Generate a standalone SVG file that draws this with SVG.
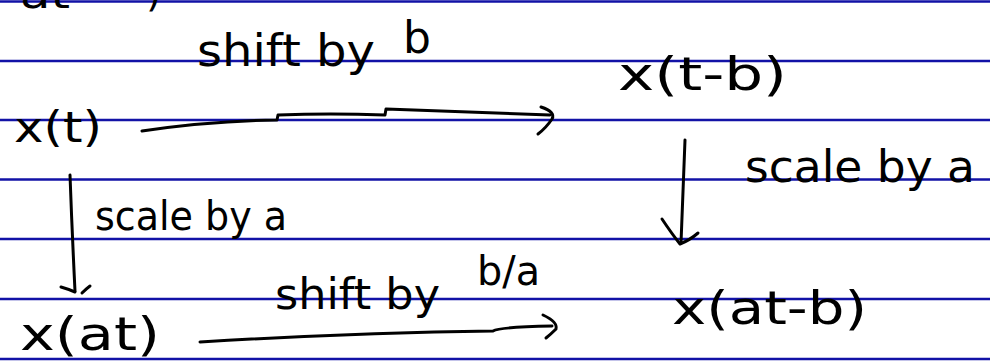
<svg xmlns="http://www.w3.org/2000/svg" width="990" height="362" viewBox="0 0 990 362">
<style>
  .rule { stroke: #1212a6; stroke-width: 2.4; }
  .hw { font-family: "DejaVu Sans", "Liberation Sans", sans-serif; fill: #000; font-weight: normal; }
  .ink { fill: none; stroke: #000; stroke-width: 3; stroke-linecap: round; stroke-linejoin: round; }
</style>
<rect width="990" height="362" fill="#ffffff"/>
<g id="ruled-lines">
  <line class="rule" x1="0" y1="1.5" x2="990" y2="1.5"/>
  <line class="rule" x1="0" y1="61" x2="990" y2="61"/>
  <line class="rule" x1="0" y1="120" x2="990" y2="120"/>
  <line class="rule" x1="0" y1="179.5" x2="990" y2="179.5"/>
  <line class="rule" x1="0" y1="239" x2="990" y2="239"/>
  <line class="rule" x1="0" y1="299" x2="990" y2="299"/>
  <line class="rule" x1="0" y1="359" x2="990" y2="359"/>
</g>
<g id="fragment-top">
  <text class="hw" x="20" y="8" font-size="40" textLength="50" lengthAdjust="spacingAndGlyphs">at</text>
  <text class="hw" x="146" y="6" font-size="40">)</text>
</g>
<g id="node-xt">
  <text class="hw" x="14" y="142" font-size="42" textLength="88" lengthAdjust="spacingAndGlyphs">x(t)</text>
</g>
<g id="node-xtb">
  <text class="hw" x="618" y="90" font-size="46" textLength="169" lengthAdjust="spacingAndGlyphs">x(t-b)</text>
</g>
<g id="node-xat">
  <text class="hw" x="20" y="350" font-size="46" textLength="140" lengthAdjust="spacingAndGlyphs">x(at)</text>
</g>
<g id="node-xatb">
  <text class="hw" x="672" y="324" font-size="46" textLength="195" lengthAdjust="spacingAndGlyphs">x(at-b)</text>
</g>
<g id="connectors">
  <g id="arrow-top">
    <path class="ink" d="M142,131 Q210,121 277,120 L278,115 Q330,113 385,115 L386,109 Q450,111 550,115"/>
    <path class="ink" d="M541,107 Q556,112 552,119 Q546,128 538,134"/>
  </g>
  <g id="arrow-right">
    <path class="ink" d="M685,140 L681,243"/>
    <path class="ink" d="M662,219 Q672,234 680,244 Q690,240 698,233"/>
  </g>
  <g id="arrow-left">
    <path class="ink" d="M70,175 Q72,230 75,291"/>
    <path class="ink" d="M61,287 Q68,289 75,292"/>
    <path class="ink" d="M82,293 Q86,289 90,286"/>
  </g>
  <g id="arrow-bottom">
    <path class="ink" d="M200,342 Q350,333 493,331 Q500,327 552,326"/>
    <path class="ink" d="M543,315 Q558,322 556,329 Q551,334 546,338"/>
  </g>
</g>
<g id="labels">
  <g id="label-shift-b">
    <text class="hw" x="197" y="66" font-size="44" textLength="178" lengthAdjust="spacingAndGlyphs">shift by</text>
    <text class="hw" x="403" y="53" font-size="44">b</text>
  </g>
  <g id="label-scale-right">
    <text class="hw" x="745" y="182" font-size="44" textLength="230" lengthAdjust="spacingAndGlyphs">scale by a</text>
  </g>
  <g id="label-scale-left">
    <text class="hw" x="95" y="230" font-size="40" textLength="192" lengthAdjust="spacingAndGlyphs">scale by a</text>
  </g>
  <g id="label-shift-ba">
    <text class="hw" x="275" y="309" font-size="42" textLength="165" lengthAdjust="spacingAndGlyphs">shift by</text>
    <text class="hw" x="477" y="285" font-size="40" textLength="63" lengthAdjust="spacingAndGlyphs">b/a</text>
  </g>
</g>
</svg>
